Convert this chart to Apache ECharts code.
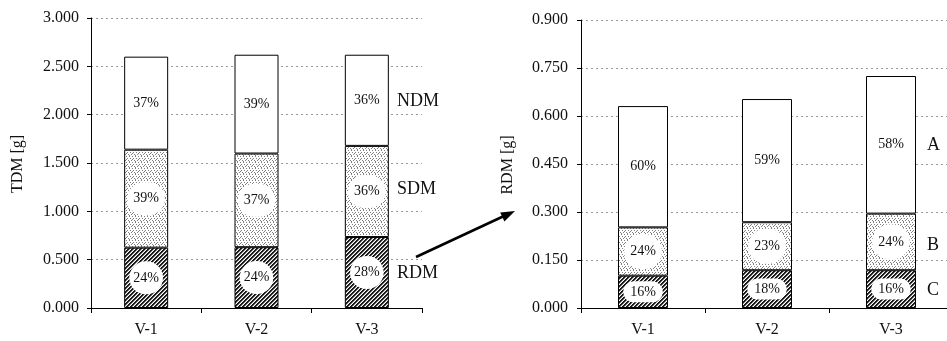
<!DOCTYPE html>
<html><head><meta charset="utf-8">
<script src="https://cdn.jsdelivr.net/npm/echarts@6/dist/echarts.min.js"></script>
<style>html,body{margin:0;padding:0;background:#fff}#c{width:947px;height:341px}</style>
</head><body><div id="c"></div>
<script>
const categories = ['V-1', 'V-2', 'V-3'];
// Left chart (TDM) segment values [g]
const leftRDM = [0.624, 0.629, 0.734];
const leftSDM = [1.014, 0.969, 0.943];
const leftNDM = [0.962, 1.022, 0.943];
const leftRDMPct = ['24%', '24%', '28%'];
const leftSDMPct = ['39%', '37%', '36%'];
const leftNDMPct = ['37%', '39%', '36%'];
// Right chart (RDM) segment values [g]
const rightC = [0.101, 0.118, 0.118];
const rightB = [0.151, 0.150, 0.177];
const rightA = [0.379, 0.385, 0.430];
const rightCPct = ['16%', '18%', '16%'];
const rightBPct = ['24%', '23%', '24%'];
const rightAPct = ['60%', '59%', '58%'];

const FONT = '"Liberation Serif", "DejaVu Serif", serif';

function makePattern(size, fn) {
  const c = document.createElement('canvas');
  c.width = c.height = size;
  const ctx = c.getContext('2d');
  ctx.fillStyle = '#fff';
  ctx.fillRect(0, 0, size, size);
  fn(ctx);
  return c;
}
const hatch = makePattern(4, ctx => {
  for (let x = 0; x < 4; x++) for (let y = 0; y < 4; y++) {
    const m = (x + y) % 4;
    if (m === 0 || m === 1) { ctx.fillStyle = '#1a1a1a'; ctx.fillRect(x, y, 1, 1); }
    else if (m === 2) { ctx.fillStyle = '#9a9a9a'; ctx.fillRect(x, y, 1, 1); }
  }
});
const stipple = makePattern(6, ctx => {
  ctx.fillStyle = '#808080';
  [[0,0],[3,0],[1,2],[4,2],[2,4],[5,4],[0,3],[3,5]].forEach(p => ctx.fillRect(p[0], p[1], 1, 1));
});
const hatchColor = { image: hatch, repeat: 'repeat' };
const stippleColor = { image: stipple, repeat: 'repeat' };

function pctLabel(arr, bg, pad, radius) {
  return {
    show: true, position: 'inside',
    formatter: p => arr[p.dataIndex],
    color: '#111', fontFamily: FONT, fontSize: 14, lineHeight: 15,
    backgroundColor: bg, padding: pad, borderRadius: radius
  };
}

function yAxis(grid, max, interval, margin) {
  return {
    type: 'value', gridIndex: grid, min: 0, max: max, interval: interval,
    axisLine: { show: true, lineStyle: { color: '#000', width: 1 } },
    axisTick: { show: true, length: 4, lineStyle: { color: '#000' } },
    axisLabel: { formatter: v => v.toFixed(3), color: '#111', fontFamily: FONT, fontSize: 16, margin: margin },
    splitLine: { show: true, lineStyle: { color: '#999', type: [2, 3], width: 1 } }
  };
}
function xAxis(grid) {
  return {
    type: 'category', gridIndex: grid, data: categories,
    axisLine: { lineStyle: { color: '#000', width: 1 } },
    axisTick: { show: true, length: 5, lineStyle: { color: '#000' } },
    axisLabel: { color: '#111', fontFamily: FONT, fontSize: 16, margin: 14 }
  };
}
const border = { borderColor: '#000', borderWidth: 1 };

const option = {
  animation: false,
  backgroundColor: '#fff',
  grid: [
    { left: 91, top: 18, width: 331, height: 290, outerBoundsMode: 'none', containLabel: false },
    { left: 581, top: 20, width: 372, height: 288, outerBoundsMode: 'none', containLabel: false }
  ],
  xAxis: [xAxis(0), xAxis(1)],
  yAxis: [yAxis(0, 3, 0.5, 12), yAxis(1, 0.9, 0.15, 13)],
  series: [
    { type: 'bar', xAxisIndex: 0, yAxisIndex: 0, stack: 'L', barWidth: 44, data: leftRDM,
      itemStyle: Object.assign({ color: hatchColor }, border), label: pctLabel(leftRDMPct, '#fff', [9, 4], 17) },
    { type: 'bar', xAxisIndex: 0, yAxisIndex: 0, stack: 'L', barWidth: 44, data: leftSDM,
      itemStyle: Object.assign({ color: stippleColor }, border), label: pctLabel(leftSDMPct, '#fff', [9, 6], 17) },
    { type: 'bar', xAxisIndex: 0, yAxisIndex: 0, stack: 'L', barWidth: 44, data: leftNDM,
      itemStyle: Object.assign({ color: '#fff' }, border), label: pctLabel(leftNDMPct, null, 0, 0) },
    { type: 'bar', xAxisIndex: 1, yAxisIndex: 1, stack: 'R', barWidth: 50, data: rightC,
      itemStyle: Object.assign({ color: hatchColor }, border), label: pctLabel(rightCPct, '#fff', [3, 7], 12) },
    { type: 'bar', xAxisIndex: 1, yAxisIndex: 1, stack: 'R', barWidth: 50, data: rightB,
      itemStyle: Object.assign({ color: stippleColor }, border), label: pctLabel(rightBPct, '#fff', [10, 6], 18) },
    { type: 'bar', xAxisIndex: 1, yAxisIndex: 1, stack: 'R', barWidth: 50, data: rightA,
      itemStyle: Object.assign({ color: '#fff' }, border), label: pctLabel(rightAPct, null, 0, 0) }
  ],
  graphic: [
    { type: 'text', x: 18, y: 164, rotation: Math.PI / 2,
      style: { text: 'TDM [g]', font: '16px ' + FONT, fill: '#111', align: 'center', verticalAlign: 'middle' } },
    { type: 'text', x: 508, y: 165, rotation: Math.PI / 2,
      style: { text: 'RDM [g]', font: '16px ' + FONT, fill: '#111', align: 'center', verticalAlign: 'middle' } },
    { type: 'text', x: 397, y: 101, style: { text: 'NDM', font: '18px ' + FONT, fill: '#111', verticalAlign: 'middle' } },
    { type: 'text', x: 397, y: 189, style: { text: 'SDM', font: '18px ' + FONT, fill: '#111', verticalAlign: 'middle' } },
    { type: 'text', x: 397, y: 273, style: { text: 'RDM', font: '18px ' + FONT, fill: '#111', verticalAlign: 'middle' } },
    { type: 'text', x: 927, y: 145, style: { text: 'A', font: '18px ' + FONT, fill: '#111', verticalAlign: 'middle' } },
    { type: 'text', x: 927, y: 245, style: { text: 'B', font: '18px ' + FONT, fill: '#111', verticalAlign: 'middle' } },
    { type: 'text', x: 927, y: 290, style: { text: 'C', font: '18px ' + FONT, fill: '#111', verticalAlign: 'middle' } },
    { type: 'line', shape: { x1: 416, y1: 257, x2: 504, y2: 216 }, style: { stroke: '#000', lineWidth: 2.5 } },
    { type: 'polygon', shape: { points: [[515, 211], [504.4, 221.4], [500.2, 212.4]] }, style: { fill: '#000' } }
  ]
};
echarts.init(document.getElementById('c')).setOption(option);
</script>
</body></html>
